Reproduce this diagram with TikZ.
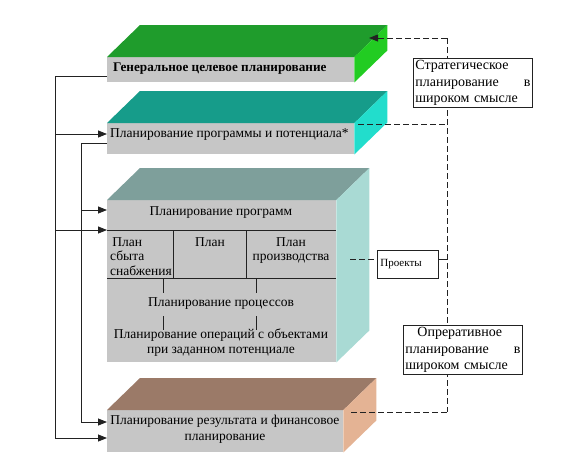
\documentclass[tikz,border=0pt]{standalone}
\usepackage{fontspec}
\setmainfont{Liberation Serif}
\usetikzlibrary{arrows.meta,calc}
\definecolor{frontgray}{HTML}{C6C6C6}
\definecolor{gAtop}{HTML}{1F9C2C}
\definecolor{gAside}{HTML}{22CC22}
\definecolor{gBtop}{HTML}{169C8A}
\definecolor{gBside}{HTML}{22DDCC}
\definecolor{gCtop}{HTML}{7E9F9B}
\definecolor{gCside}{HTML}{A9DAD4}
\definecolor{gDtop}{HTML}{9B7A68}
\definecolor{gDside}{HTML}{E4B394}
\definecolor{linec}{HTML}{222222}
\newcommand\cubefaces[3]{%
  \fill[#2] (#1.north west) -- ++(33,-32) -- ($(#1.north east)+(33,-32)$) -- (#1.north east) -- cycle;
  \fill[#3] (#1.north east) -- ++(33,-32) -- ($(#1.south east)+(33,-32)$) -- (#1.south east) -- cycle;}
\begin{document}
\begin{tikzpicture}[x=1pt,y=-1pt,
  front/.style={fill=frontgray, inner sep=0pt, anchor=north west},
  txt/.style={font=\fontsize{13.5}{14.5}\selectfont, inner sep=0pt},
  conn/.style={draw=linec, line width=0.8pt},
  arr/.style={conn, -{Triangle[length=9pt,width=7pt]}},
  dashc/.style={draw=linec, line width=1pt, dash pattern=on 6pt off 3pt},
  plainbox/.style={draw=linec, fill=white, line width=0.8pt, inner sep=2pt, anchor=north west}]
\useasboundingbox (0,0) rectangle (578,472);

% right dashed backbone (drawn first, boxes cover it)
\coordinate (r0) at (447,38);
\coordinate (r5) at (447,412);
\draw[dashc] (r0) -- (r5);

% cuboids
\node[front, minimum width=247pt, minimum height=25pt] (g1) at (107,57) {};
\cubefaces{g1}{gAtop}{gAside}
\node[front, minimum width=247pt, minimum height=31pt] (g2) at (107,123) {};
\cubefaces{g2}{gBtop}{gBside}
\node[front, minimum width=229pt, minimum height=162pt] (g3) at (107,200) {};
\cubefaces{g3}{gCtop}{gCside}
\node[front, minimum width=236pt, minimum height=42pt] (g4) at (107,410) {};
\cubefaces{g4}{gDtop}{gDside}

% texts on fronts
\node[txt, anchor=west, font=\fontsize{13.2}{14}\selectfont\bfseries] (t1) at (113,69) {Генеральное целевое планирование};
\node[txt, anchor=west] (t2) at (110,135) {Планирование программы и потенциала*};
\node[txt] (t3) at (221,213) {Планирование программ};
\node[txt, align=center, font=\fontsize{13.5}{16}\selectfont] (t4) at (225,429) {Планирование результата и финансовое\\планирование};

% inner table of box 3
\draw[conn] (107,230) -- (336,230);
\draw[conn] (107,278) -- (336,278);
\draw[conn] (173,230) -- (173,278);
\draw[conn] (246,230) -- (246,278);
\node[txt, anchor=north west, align=left] (c1) at (110,237) {\,План\\сбыта\\снабжения};
\node[txt, anchor=north] (c2) at (210,237) {План};
\node[txt, anchor=north, align=center] (c3) at (291,237) {План\\производства};
\draw[conn] (163,278) -- (163,293);
\draw[conn] (256,278) -- (256,293);
\node[txt] (proc) at (221,304) {Планирование процессов};
\draw[conn] (163,316) -- (163,330);
\draw[conn] (256,316) -- (256,330);
\node[txt, align=center, font=\fontsize{13.5}{15}\selectfont] (ops) at (221,343) {Планирование операций с объектами\\при заданном потенциале};

% left connectors
\coordinate (b1) at (55,76);
\coordinate (b2) at (55,134);
\coordinate (b3) at (55,230);
\coordinate (b4) at (55,438);
\draw[conn] (g1.west |- b1) -- (b1) -- (b4);
\draw[arr] (b2) -- (g2.west |- b2);
\draw[arr] (b3) -- (g3.west |- b3);
\draw[arr] (b4) -- (g4.west |- b4);
\coordinate (i1) at (81,143);
\coordinate (i3) at (81,210);
\coordinate (i4) at (81,422);
\draw[conn] (g2.west |- i1) -- (i1) -- (i4);
\draw[arr] (i3) -- (g3.west |- i3);
\draw[arr] (i4) -- (g4.west |- i4);

% right side boxes
\node[plainbox, text width=115pt, align=left, font=\fontsize{14}{16.5}\selectfont] (s1) at (413,58)
  {Стратегическое\\\makebox[115pt][l]{планирование\hfill в}\\широком смысле};
\node[plainbox, text width=115pt, align=left, font=\fontsize{14}{16.5}\selectfont] (s2) at (403,325)
  {\hspace*{12pt}Опреративное\\\makebox[115pt][l]{планирование\hfill в}\\широком смысле};
\node[plainbox, minimum width=61pt, minimum height=28pt, font=\fontsize{11}{12}\selectfont, align=left, text width=55pt] (pr) at (377,250) {Проекты};

% right dashed connectors
\coordinate (a1) at (369,38);
\draw[dashc, -{Triangle[length=9pt,width=7pt]}] (r0) -- (a1);
\coordinate (d2) at (358,124);
\coordinate (r2) at (447,124);
\draw[dashc] (d2) -- (r2);
\coordinate (d3) at (350,259);
\draw[dashc] (d3) -- (pr.west |- d3);
\coordinate (r3) at (447,259);
\draw[conn] (pr.east |- r3) -- (r3);
\coordinate (d4) at (351,412);
\draw[dashc] (d4) -- (r5);
\end{tikzpicture}
\end{document}
